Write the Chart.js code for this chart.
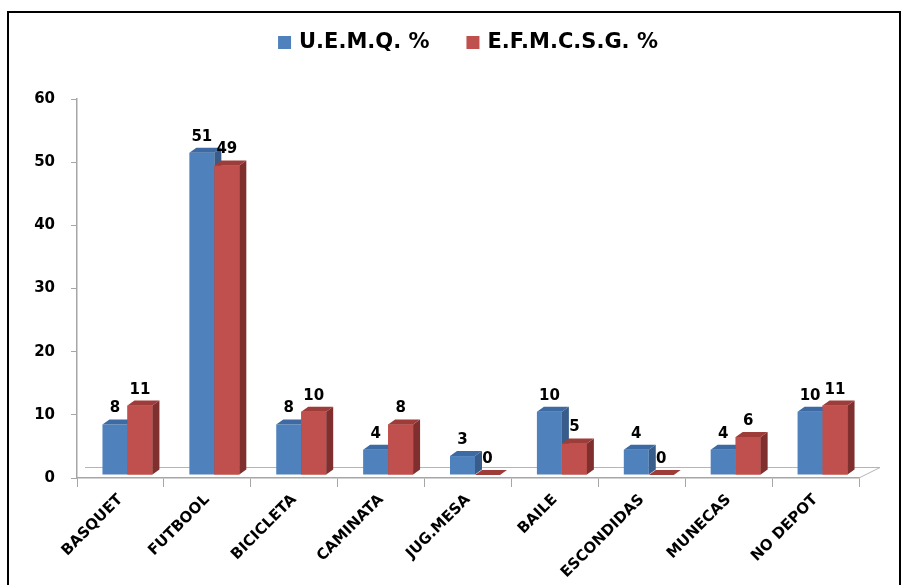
<!DOCTYPE html>
<html>
<head>
<meta charset="utf-8">
<script src="https://cdn.jsdelivr.net/npm/chart.js@4.4.1/dist/chart.umd.min.js"></script>
<style>
  html, body { margin: 0; padding: 0; background: #fff; overflow: hidden; }
  #wrap { width: 902px; height: 585px; position: relative; }
</style>
</head>
<body>
<div id="wrap"><canvas id="c" width="902" height="585"></canvas></div>
<script>
// Activity categories (x axis)
const categories = ['BASQUET', 'FUTBOOL', 'BICICLETA', 'CAMINATA', 'JUG.MESA', 'BAILE', 'ESCONDIDAS', 'MUNECAS', 'NO DEPOT'];
// Percentages per school
const uemqValues = [8, 51, 8, 4, 3, 10, 4, 4, 10];
const efmcsgValues = [11, 49, 10, 8, 0, 5, 0, 6, 11];
// Series names
const seriesNames = ['U.E.M.Q. %', 'E.F.M.C.S.G. %'];
// Value axis
const yMin = 0, yMax = 60, yStep = 10;

const FONT = '"DejaVu Sans", Verdana, sans-serif';
const palette = [
  { front: '#4F81BD', side: '#385D8A', top: '#3D6AA2' },
  { front: '#C0504D', side: '#7F302E', top: '#9E3C39' }
];
const SHIFT = { x: 7, y: -3 };     // bars sit slightly behind the front axis line
const DEPTH = { x: 7, y: -5 };     // bar depth (side + top faces)
const FLOOR = { x: 21, y: -11 };   // floor depth

function drawDepthFaces(ctx, bar, c) {
  const { x, y, base, width } = bar.getProps(['x', 'y', 'base', 'width'], true);
  const l = x - width / 2, r = x + width / 2;
  ctx.fillStyle = c.side;
  ctx.beginPath();
  ctx.moveTo(r, base);
  ctx.lineTo(r + DEPTH.x, base + DEPTH.y);
  ctx.lineTo(r + DEPTH.x, y + DEPTH.y);
  ctx.lineTo(r, y);
  ctx.closePath();
  ctx.fill();
  ctx.fillStyle = c.top;
  ctx.beginPath();
  ctx.moveTo(l, y);
  ctx.lineTo(l + DEPTH.x, y + DEPTH.y);
  ctx.lineTo(r + DEPTH.x, y + DEPTH.y);
  ctx.lineTo(r, y);
  ctx.closePath();
  ctx.fill();
}

const bars3d = {
  id: 'bars3d',
  beforeDraw(chart) {
    const { ctx } = chart;
    ctx.save();
    ctx.fillStyle = '#fff';
    ctx.fillRect(0, 0, chart.width, chart.height);
    ctx.strokeStyle = '#000';
    ctx.lineWidth = 2;
    ctx.strokeRect(8, 12, 892, 620);
    ctx.restore();
  },
  beforeDatasetsDraw(chart) {
    const { ctx, chartArea: a } = chart;
    ctx.save();
    ctx.strokeStyle = '#b5b5b5';
    ctx.lineWidth = 1;
    ctx.beginPath();
    ctx.moveTo(a.left + 8, a.bottom + FLOOR.y + 0.5);
    ctx.lineTo(a.right + FLOOR.x, a.bottom + FLOOR.y + 0.5);
    ctx.lineTo(a.right, a.bottom);
    ctx.stroke();
    ctx.restore();
    ctx.save();
    ctx.translate(SHIFT.x, SHIFT.y);
  },
  afterDatasetsDraw(chart) {
    const { ctx } = chart;
    // left-to-right depth order: each series' faces, then the next series over them
    chart.data.datasets.forEach((ds, i) => {
      const meta = chart.getDatasetMeta(i);
      meta.data.forEach(bar => {
        if (i > 0) bar.draw(ctx);
        drawDepthFaces(ctx, bar, palette[i]);
      });
    });
    ctx.font = 'bold 15px ' + FONT;
    ctx.fillStyle = '#000';
    ctx.textAlign = 'center';
    ctx.textBaseline = 'alphabetic';
    chart.data.datasets.forEach((ds, i) => {
      const meta = chart.getDatasetMeta(i);
      meta.data.forEach((bar, j) => {
        const { x, y } = bar.getProps(['x', 'y'], true);
        ctx.fillText(String(ds.data[j]), x, y - 12);
      });
    });
    ctx.restore();
  },
  afterDraw(chart) {
    const { ctx, chartArea: a } = chart;
    ctx.save();
    ctx.font = 'bold 21px ' + FONT;
    ctx.textBaseline = 'middle';
    ctx.textAlign = 'left';
    const box = 13, gap = 8, between = 37;
    const widths = chart.data.datasets.map(ds => box + gap + ctx.measureText(ds.label).width);
    const total = widths.reduce((s, w) => s + w, 0) + between * (widths.length - 1);
    let x = (a.left + a.right) / 2 - total / 2;
    const cy = 42.5;
    chart.data.datasets.forEach((ds, i) => {
      ctx.fillStyle = palette[i].front;
      ctx.fillRect(x, cy - 6.5, box, box);
      ctx.fillStyle = '#000';
      ctx.fillText(ds.label, x + box + gap, cy);
      x += widths[i] + between;
    });
    ctx.restore();
  }
};

new Chart(document.getElementById('c'), {
  type: 'bar',
  data: {
    labels: categories,
    datasets: [
      { label: seriesNames[0], data: uemqValues, backgroundColor: palette[0].front },
      { label: seriesNames[1], data: efmcsgValues, backgroundColor: palette[1].front }
    ]
  },
  options: {
    responsive: false,
    devicePixelRatio: 1,
    animation: false,
    clip: false,
    categoryPercentage: 0.575,
    barPercentage: 1,
    layout: { padding: { top: 99, right: 43, bottom: 0, left: 0 } },
    plugins: { legend: { display: false }, tooltip: { enabled: false } },
    scales: {
      x: {
        afterFit: s => { s.height = 107; },
        grid: { display: true, drawOnChartArea: false, drawTicks: true, tickLength: 9, color: '#a6a6a6' },
        border: { display: true, color: '#a6a6a6', width: 1.5 },
        ticks: {
          color: '#000',
          font: { family: FONT, size: 15, weight: 'bold' },
          minRotation: 45, maxRotation: 45, autoSkip: false, padding: 4
        }
      },
      y: {
        min: yMin, max: yMax,
        afterFit: s => { s.width = 77; },
        grid: { display: true, drawOnChartArea: false, drawTicks: true, tickLength: 6, color: '#a6a6a6' },
        border: { display: true, color: '#a6a6a6', width: 1.5 },
        ticks: {
          stepSize: yStep,
          color: '#000',
          font: { family: FONT, size: 15, weight: 'bold' },
          padding: 16
        }
      }
    }
  },
  plugins: [bars3d]
});
</script>
</body>
</html>
